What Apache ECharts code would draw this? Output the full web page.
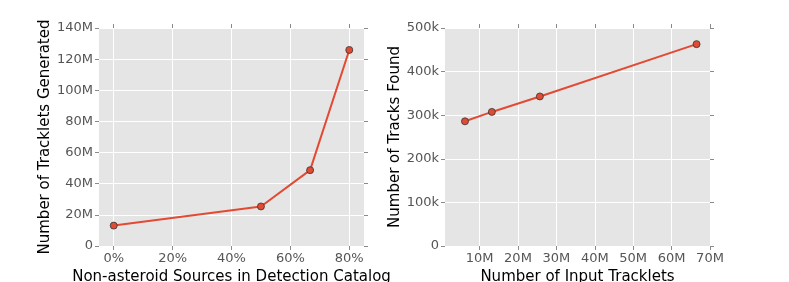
<!DOCTYPE html>
<html>
<head>
<meta charset="utf-8">
<script src="https://cdn.jsdelivr.net/npm/echarts@6/dist/echarts.min.js"></script>
<style>
html,body{margin:0;padding:0;background:#fff;}
#c{width:789px;height:282px;}
</style>
</head>
<body>
<div id="c"></div>
<script>
// Left panel data
const nonAsteroidPct = [0, 50, 66.7, 80];
const trackletsGenerated = [13.1e6, 25.4e6, 48.7e6, 125.9e6];
const leftXTicks = [0, 20, 40, 60, 80];

// Right panel data
const inputTracklets = [6.2e6, 13.2e6, 25.7e6, 66.5e6];
const tracksFound = [286e3, 307.5e3, 343e3, 463e3];
const rightXTicks = [10e6, 20e6, 30e6, 40e6, 50e6, 60e6, 70e6];

const FONT = 'DejaVu Sans';
const tickColor = '#8a8a8a';
const labelColor = '#555555';
const TICK_FS = 13;

function fmtM(v){ return v === 0 ? '0' : (v/1e6) + 'M'; }
function fmtK(v){ return v === 0 ? '0' : (v/1e3) + 'k'; }
function fmtPct(v){ return v + '%'; }

const chart = echarts.init(document.getElementById('c'), null, {renderer:'canvas'});

function mainX(gridIndex, min, max, ticks, fmt, name){
  return {
    type:'value', gridIndex, min, max, position:'bottom',
    name, nameLocation:'middle', nameGap:20,
    nameTextStyle:{color:'#000', fontSize:15, fontFamily:FONT},
    axisLine:{show:false, onZero:false},
    axisTick:{show:true, inside:false, length:4, lineStyle:{color:tickColor, width:1}, customValues:ticks},
    axisLabel:{show:true, color:labelColor, fontSize:TICK_FS, fontFamily:FONT, margin:6, formatter:fmt, customValues:ticks},
    splitLine:{show:true, lineStyle:{color:'#ffffff', width:1}}
  };
}
function topX(gridIndex, min, max, ticks){
  return {
    type:'value', gridIndex, min, max, position:'top',
    axisLine:{show:false, onZero:false},
    axisTick:{show:true, inside:false, length:4, lineStyle:{color:tickColor, width:1}, customValues:ticks},
    axisLabel:{show:false, customValues:ticks},
    splitLine:{show:false}
  };
}
function mainY(gridIndex, max, interval, fmt, name, gap){
  return {
    type:'value', gridIndex, min:0, max, interval, position:'left',
    name, nameLocation:'middle', nameGap:gap,
    nameTextStyle:{color:'#000', fontSize:15, fontFamily:FONT},
    axisLine:{show:false, onZero:false},
    axisTick:{show:true, inside:false, length:4, lineStyle:{color:tickColor, width:1}},
    axisLabel:{show:true, color:labelColor, fontSize:TICK_FS, fontFamily:FONT, margin:6, formatter:fmt},
    splitLine:{show:true, lineStyle:{color:'#ffffff', width:1}}
  };
}
function rightY(gridIndex, max, interval){
  return {
    type:'value', gridIndex, min:0, max, interval, position:'right',
    axisLine:{show:false, onZero:false},
    axisTick:{show:true, inside:false, length:4, lineStyle:{color:tickColor, width:1}},
    axisLabel:{show:false},
    splitLine:{show:false}
  };
}

const lineSeries = (xi, yi, xs, ys) => ({
  type:'line', xAxisIndex:xi, yAxisIndex:yi,
  data: xs.map((x,i)=>[x, ys[i]]),
  symbol:'circle', symbolSize:7,
  lineStyle:{color:'#E24A33', width:2},
  itemStyle:{color:'#E24A33', borderColor:'#333333', borderWidth:0.8},
  clip:false, animation:false, z:3
});

chart.setOption({
  animation:false,
  backgroundColor:'#ffffff',
  textStyle:{fontFamily:FONT},
  grid:[
    {left:99, top:28, width:265, height:218, show:true, backgroundColor:'#E5E5E5', borderWidth:0, containLabel:false, outerBoundsMode:'none'},
    {left:445, top:28, width:265, height:218, show:true, backgroundColor:'#E5E5E5', borderWidth:0, containLabel:false, outerBoundsMode:'none'}
  ],
  xAxis:[
    mainX(0, -5, 85, leftXTicks, fmtPct, 'Non-asteroid Sources in Detection Catalog'),
    topX(0, -5, 85, leftXTicks),
    mainX(1, 1e6, 70e6, rightXTicks, fmtM, 'Number of Input Tracklets'),
    topX(1, 1e6, 70e6, rightXTicks)
  ],
  yAxis:[
    mainY(0, 140e6, 20e6, fmtM, 'Number of Tracklets Generated', 44),
    rightY(0, 140e6, 20e6),
    mainY(1, 500e3, 100e3, fmtK, 'Number of Tracks Found', 42),
    rightY(1, 500e3, 100e3)
  ],
  series:[
    lineSeries(0, 0, nonAsteroidPct, trackletsGenerated),
    lineSeries(2, 2, inputTracklets, tracksFound)
  ]
});
</script>
</body>
</html>
